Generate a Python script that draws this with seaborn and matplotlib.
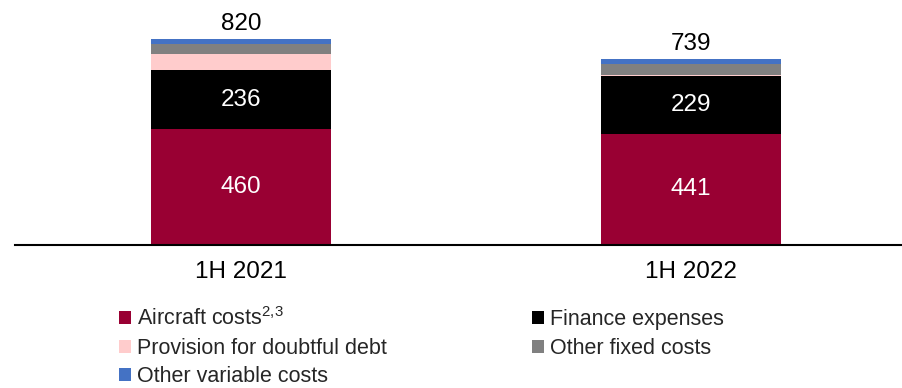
import numpy as np
import pandas as pd
import matplotlib
matplotlib.use("Agg")
import matplotlib.pyplot as plt
from matplotlib.patches import Patch
import seaborn as sns

periods = ["1H 2021", "1H 2022"]
aircraft_costs = [460, 441]
finance_expenses = [236, 229]
doubtful_debt = [64, 5]
other_fixed = [40, 44]
other_variable = [20, 20]
totals = [820, 739]

series_names = ["Aircraft costs", "Finance expenses", "Provision for doubtful debt",
                "Other fixed costs", "Other variable costs"]
series_values = [aircraft_costs, finance_expenses, doubtful_debt, other_fixed, other_variable]
series_colors = ["#990033", "#000000", "#FFCCCC", "#808080", "#4472C4"]

sns.set_theme(style="white")
plt.rcParams["font.family"] = ["Liberation Sans", "DejaVu Sans"]
plt.rcParams["mathtext.fontset"] = "custom"
plt.rcParams["mathtext.rm"] = "Liberation Sans"

fig = plt.figure(figsize=(9.03, 3.88), dpi=100)
ax = fig.add_axes([15 / 903, 143.5 / 388, 1 - 15 / 903, 244.5 / 388])

# stacked bars: draw cumulative heights from the top segment down
cum = np.cumsum(np.array(series_values), axis=0)
for i in range(len(series_names) - 1, -1, -1):
    df = pd.DataFrame({"period": periods, "value": cum[i]})
    sns.barplot(data=df, x="period", y="value", color=series_colors[i],
                width=0.4, saturation=1, ax=ax, linewidth=0)

ax.set_xlim(-0.502, 1.471)
ax.set_ylim(0, 975)
ax.set_xlabel("")
ax.set_ylabel("")
ax.set_yticks([])
ax.tick_params(axis="x", length=0, pad=12, labelsize=17.5, colors="black")
for s in ["top", "left", "right"]:
    ax.spines[s].set_visible(False)
ax.spines["bottom"].set_color("black")
ax.spines["bottom"].set_linewidth(1.5)

# values inside the two largest segments, totals on top
for j in range(len(periods)):
    base = 0
    for i, vals in enumerate(series_values[:2]):
        ax.text(j, base + vals[j] / 2, str(vals[j]), ha="center", va="center",
                color="white", fontsize=17.5)
        base += vals[j]
    ax.annotate(str(totals[j]), (j, totals[j]), xytext=(0, 6.5), textcoords="offset points",
                ha="center", va="baseline", fontsize=17.5, color="black")

def make_handles(idx):
    return [Patch(facecolor=series_colors[i], edgecolor="none") for i in idx]

labels = ["Aircraft costs$^{\\mathrm{2{,}3}}$", "Finance expenses", "Provision for doubtful debt",
          "Other fixed costs", "Other variable costs"]

leg_kw = dict(frameon=False, fontsize=15.5, handlelength=0.55, handleheight=0.55,
              handletextpad=0.28, labelspacing=0.36, borderpad=0, borderaxespad=0,
              loc="upper left")
left_idx = [0, 2, 4]
right_idx = [1, 3]
fig.legend(make_handles(left_idx), [labels[i] for i in left_idx],
           bbox_to_anchor=(119 / 903, 1 - 307 / 388), **leg_kw)
fig.legend(make_handles(right_idx), [labels[i] for i in right_idx],
           bbox_to_anchor=(532 / 903, 1 - 309 / 388), **leg_kw)

fig.savefig("out.png", dpi=100)
